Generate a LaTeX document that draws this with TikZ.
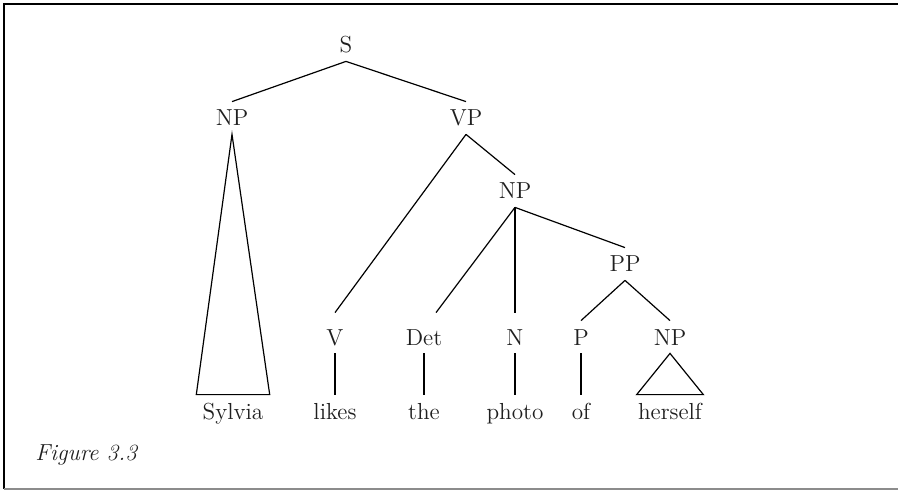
\documentclass[tikz,border=0pt]{standalone}
\begin{document}
\begin{tikzpicture}[x=0.5pt,y=-0.5pt,
  lab/.style={text height=8pt,text depth=0pt,inner xsep=0pt,inner ysep=4pt,
    font=\fontsize{11.6}{14}\selectfont,text=black!88,anchor=base},
  br/.style={line width=0.6pt,black}]
\useasboundingbox (0,0) rectangle (898,491);
% frame
\draw[line width=1.1pt] (3.5,4) -- (898,4);
\draw[line width=0.8pt] (4,3.5) -- (4,489);
\draw[line width=0.8pt,black!45] (3.6,489) -- (898,489);
% nodes
\node[lab] (S) at (346,53) {S};
\node[lab] (NPa) at (232,126) {NP};
\node[lab] (VP) at (466,126) {VP};
\node[lab] (NPb) at (515,199) {NP};
\node[lab] (PP) at (625,272) {PP};
\node[lab] (V) at (335,345) {V};
\node[lab] (Det) at (424,345) {Det};
\node[lab] (N) at (515,345) {N};
\node[lab] (P) at (581,345) {P};
\node[lab] (NPc) at (670,345) {NP};
\node[lab] (w1) at (233,419) {Sylvia};
\node[lab] (w2) at (335,419) {likes};
\node[lab] (w3) at (424,419) {the};
\node[lab] (w4) at (515,419) {photo};
\node[lab] (w5) at (581,419) {of};
\node[lab] (w6) at (670,419) {herself};
\node[font=\fontsize{11.6}{14}\selectfont\itshape,text=black!88,anchor=base west,inner sep=0pt] (cap) at (35,460) {Figure 3.3};
% branches
\draw[br] (S.south) -- (NPa.north);
\draw[br] (S.south) -- (VP.north);
\draw[br] (VP.south) -- ([yshift=4pt]V.north);
\draw[br] (VP.south) -- (NPb.north);
\draw[br] (NPb.south) -- ([xshift=6pt,yshift=4pt]Det.north);
\draw[br] (NPb.south) -- ([yshift=4pt]N.north);
\draw[br] (NPb.south) -- (PP.north);
\draw[br] (PP.south) -- (P.north);
\draw[br] (PP.south) -- (NPc.north);
\draw[br] (V.south) -- (w2.north);
\draw[br] (Det.south) -- (w3.north);
\draw[br] (N.south) -- (w4.north);
\draw[br] (P.south) -- (w5.north);
% triangles
\draw[br] (NPa.south) -- ([xshift=-3pt]w1.north west) -- ([xshift=3pt]w1.north east) -- cycle;
\draw[br] (NPc.south) -- ([xshift=-0.5pt]w6.north west) -- ([xshift=0.5pt]w6.north east) -- cycle;
\end{tikzpicture}
\end{document}
